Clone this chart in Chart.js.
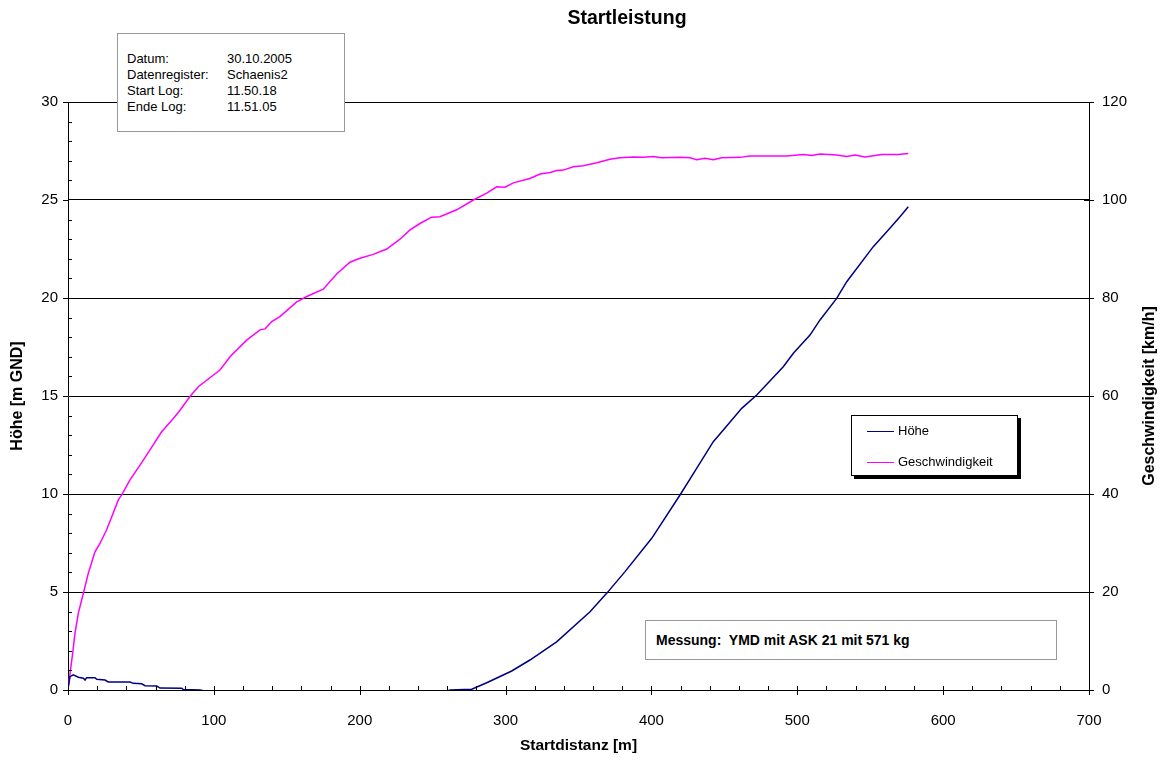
<!DOCTYPE html>
<html lang="de">
<head>
<meta charset="utf-8">
<title>Startleistung</title>
<script src="https://cdn.jsdelivr.net/npm/chart.js"></script>
<style>
  body { margin: 0; background: #fff; }
  #wrap { position: relative; width: 1163px; height: 760px; font-family: "Liberation Sans", Arial, sans-serif; }
  #titel { position: absolute; left: 527px; top: 5px; width: 200px; text-align: center; font-size: 19.5px; font-weight: bold; line-height: 24px; }
  .box { position: absolute; background: #fff; border: 1px solid #999; box-sizing: border-box; color: #000; }
  #info { left: 117px; top: 33px; width: 228px; height: 99px; font-size: 13px; }
  #info table { position: absolute; left: 9px; top: 17px; border-collapse: collapse; }
  #info td { padding: 0; height: 16px; line-height: 16px; }
  #info td:first-child { width: 100px; }
  #messung { left: 645px; top: 620px; width: 412px; height: 40px; font-size: 14px; font-weight: bold; line-height: 38px; padding-left: 10px; white-space: pre; }
  #legende { left: 851px; top: 415px; width: 167px; height: 61px; border: 1px solid #000; box-shadow: 3px 3px 0 #000; font-size: 13px; }
  .item { position: absolute; left: 15px; height: 16px; line-height: 16px; }
  .item span { display: inline-block; width: 27px; height: 0; border-top: 1.5px solid; vertical-align: middle; margin-right: 4px; }
</style>
</head>
<body>
<div id="wrap">
  <canvas id="startChart" width="1163" height="760"></canvas>
  <div id="titel">Startleistung</div>
  <div class="box" id="info">
    <table>
      <tr><td>Datum:</td><td>30.10.2005</td></tr>
      <tr><td>Datenregister:</td><td>Schaenis2</td></tr>
      <tr><td>Start Log:</td><td>11.50.18</td></tr>
      <tr><td>Ende Log:</td><td>11.51.05</td></tr>
    </table>
  </div>
  <div class="box" id="messung">Messung:  YMD mit ASK 21 mit 571 kg</div>
  <div class="box" id="legende">
    <div class="item" style="top:7px"><span style="border-color:#000080"></span>Höhe</div>
    <div class="item" style="top:38px"><span style="border-color:#ff00ff"></span>Geschwindigkeit</div>
  </div>
</div>
<script>
// Höhe [m GND] über Startdistanz [m]
const hoeheDist = [0.2, 1.4, 3.6, 7.1, 10.5, 11.7, 12.8, 18.5, 19.7, 25.4, 27.6, 42.5, 44.8, 50.5, 52.8,
  60.8, 63.1, 78.0, 79.0, 90.5, 110, 150, 200, 240, 258, 262, 276.8, 287.1, 304.2, 316.7, 335.0,
  357.9, 369.3, 381.9, 400.2, 419.6, 431.0, 442.4, 449.3, 461.9, 472.2, 490.4, 497.3, 508.7,
  515.6, 527.0, 533.9, 552.1, 563.5, 570.4, 576.1];
const hoeheWerte = [0.17, 0.68, 0.77, 0.65, 0.6, 0.51, 0.63, 0.63, 0.55, 0.51, 0.41, 0.41, 0.34, 0.32, 0.22,
  0.2, 0.1, 0.09, 0.02, 0.0, -0.3, -0.6, -0.5, -0.3, -0.1, 0, 0.04, 0.37, 0.97, 1.53, 2.46,
  3.99, 4.93, 6.04, 7.74, 9.95, 11.31, 12.67, 13.27, 14.37, 15.05, 16.49, 17.18, 18.11,
  18.88, 19.98, 20.83, 22.62, 23.56, 24.15, 24.66];

// Geschwindigkeit [km/h] über Startdistanz [m]
const speedDist = [0.2, 1.4, 3.2, 4.8, 7.1, 10.5, 13.9, 18.5, 21.9, 26.5, 34.5, 36.8, 42.5, 49.4, 56.2,
  64.2, 72.2, 76.8, 83.6, 89.3, 104.2, 111.1, 122.5, 131.6, 135.1, 139.7, 145.3, 156.8, 163.7,
  175.0, 184.2, 193.3, 200.2, 209.3, 218.5, 227.6, 234.5, 241.3, 249.3, 255.0, 266.5, 277.9,
  287.1, 293.9, 299.6, 305.3, 316.7, 323.6, 330.5, 335.0, 339.6, 346.4, 353.3, 362.5, 371.6,
  378.4, 387.6, 394.4, 401.3, 407.0, 419.6, 426.4, 431.0, 436.7, 442.4, 448.2, 460.7, 467.6,
  476.7, 492.7, 504.1, 509.9, 515.6, 527.0, 533.9, 539.6, 546.4, 557.9, 569.2, 576.1];
const speedWerte = [0.7, 3.4, 7.5, 11.6, 15.7, 19.7, 23.8, 28.2, 29.9, 32.7, 38.8, 39.8, 42.9, 45.9, 49.0,
  52.7, 55.4, 57.1, 59.9, 61.9, 65.3, 68.0, 71.4, 73.5, 73.7, 75.2, 76.2, 79.2, 80.3,
  81.8, 84.9, 87.3, 88.1, 88.9, 90.0, 92.0, 93.9, 95.2, 96.5, 96.6, 98.0, 100.0,
  101.4, 102.7, 102.6, 103.5, 104.4, 105.3, 105.6, 106.0, 106.1, 106.8, 107.0, 107.6, 108.3,
  108.6, 108.8, 108.7, 108.9, 108.6, 108.7, 108.6, 108.2, 108.5, 108.2, 108.6, 108.7, 109.0,
  109.0, 109.0, 109.3, 109.1, 109.4, 109.2, 108.9, 109.2, 108.8, 109.3, 109.3, 109.5];

const xTicks = [0, 100, 200, 300, 400, 500, 600, 700];

Chart.defaults.font.family = '"Liberation Sans", Arial, sans-serif';
Chart.defaults.color = "#000";

// Haupt- und Hilfsstriche wie im Excel-Diagramm
const tickMarks = {
  id: "tickMarks",
  afterDraw(chart) {
    const ctx = chart.ctx;
    const { x, y, y1 } = chart.scales;
    ctx.save();
    ctx.strokeStyle = "#000";
    ctx.lineWidth = 1;
    ctx.beginPath();
    for (let v = 0; v <= 700; v += 20) {
      const px = Math.round(x.getPixelForValue(v)) + 0.5;
      const major = v % 100 === 0;
      ctx.moveTo(px, y.bottom - 4);
      ctx.lineTo(px, y.bottom + (major ? 5 : 0));
    }
    for (let v = 0; v <= 30; v += 1) {
      const py = Math.round(y.getPixelForValue(v)) + 0.5;
      if (v % 5 === 0) {
        ctx.moveTo(x.left - 5, py);
        ctx.lineTo(x.left, py);
      } else {
        ctx.moveTo(x.left, py);
        ctx.lineTo(x.left + 4, py);
      }
    }
    for (let v = 0; v <= 120; v += 20) {
      const py = Math.round(y1.getPixelForValue(v)) + 0.5;
      ctx.moveTo(x.right - 5, py);
      ctx.lineTo(x.right + 5, py);
    }
    ctx.stroke();

    // rechte Achsenbeschriftung, von unten nach oben gelesen
    ctx.translate(1150, (y1.top + y1.bottom) / 2);
    ctx.rotate(-Math.PI / 2);
    ctx.font = 'bold 16px "Liberation Sans", Arial, sans-serif';
    ctx.textAlign = "center";
    ctx.textBaseline = "middle";
    ctx.fillStyle = "#000";
    ctx.fillText("Geschwindigkeit [km/h]", 0, 0);
    ctx.restore();
  }
};

const ctx = document.getElementById("startChart").getContext("2d");
new Chart(ctx, {
  type: "line",
  data: {
    datasets: [
      {
        label: "Höhe",
        data: hoeheDist.map((d, i) => ({ x: d, y: hoeheWerte[i] })),
        borderColor: "#000080",
        borderWidth: 1.5,
        pointRadius: 0,
        tension: 0,
        yAxisID: "y"
      },
      {
        label: "Geschwindigkeit",
        data: speedDist.map((d, i) => ({ x: d, y: speedWerte[i] })),
        borderColor: "#ff00ff",
        borderWidth: 1.5,
        pointRadius: 0,
        tension: 0,
        yAxisID: "y1"
      }
    ]
  },
  options: {
    responsive: false,
    animation: false,
    devicePixelRatio: 1,
    layout: { padding: { top: 102 } },
    plugins: {
      legend: { display: false },
      tooltip: { enabled: false },
      title: { display: false }
    },
    scales: {
      x: {
        type: "linear",
        min: 0,
        max: 700,
        afterBuildTicks: axis => { axis.ticks = xTicks.map(v => ({ value: v })); },
        ticks: { font: { size: 15 }, padding: 14, maxRotation: 0, autoSkip: false },
        grid: { display: false },
        border: { display: true, color: "#000", width: 1 },
        title: {
          display: true,
          text: "Startdistanz [m]",
          font: { size: 15.5, weight: "bold" },
          padding: { top: 0, bottom: 5 }
        },
        afterFit: axis => { axis.height = 70; }
      },
      y: {
        position: "left",
        min: 0,
        max: 30,
        ticks: { stepSize: 5, font: { size: 15 }, padding: 10 },
        grid: { color: "#000", lineWidth: 1, drawTicks: false },
        border: { display: true, color: "#000", width: 1 },
        title: {
          display: true,
          text: "Höhe [m GND]",
          font: { size: 16, weight: "bold" },
          padding: { top: 8, bottom: 0 }
        },
        afterFit: axis => { axis.width = 68; }
      },
      y1: {
        position: "right",
        min: 0,
        max: 120,
        ticks: { stepSize: 20, font: { size: 15 }, padding: 13 },
        grid: { drawOnChartArea: false, drawTicks: false },
        border: { display: true, color: "#000", width: 1 },
        afterFit: axis => { axis.width = 74; }
      }
    }
  },
  plugins: [tickMarks]
});
</script>
</body>
</html>
